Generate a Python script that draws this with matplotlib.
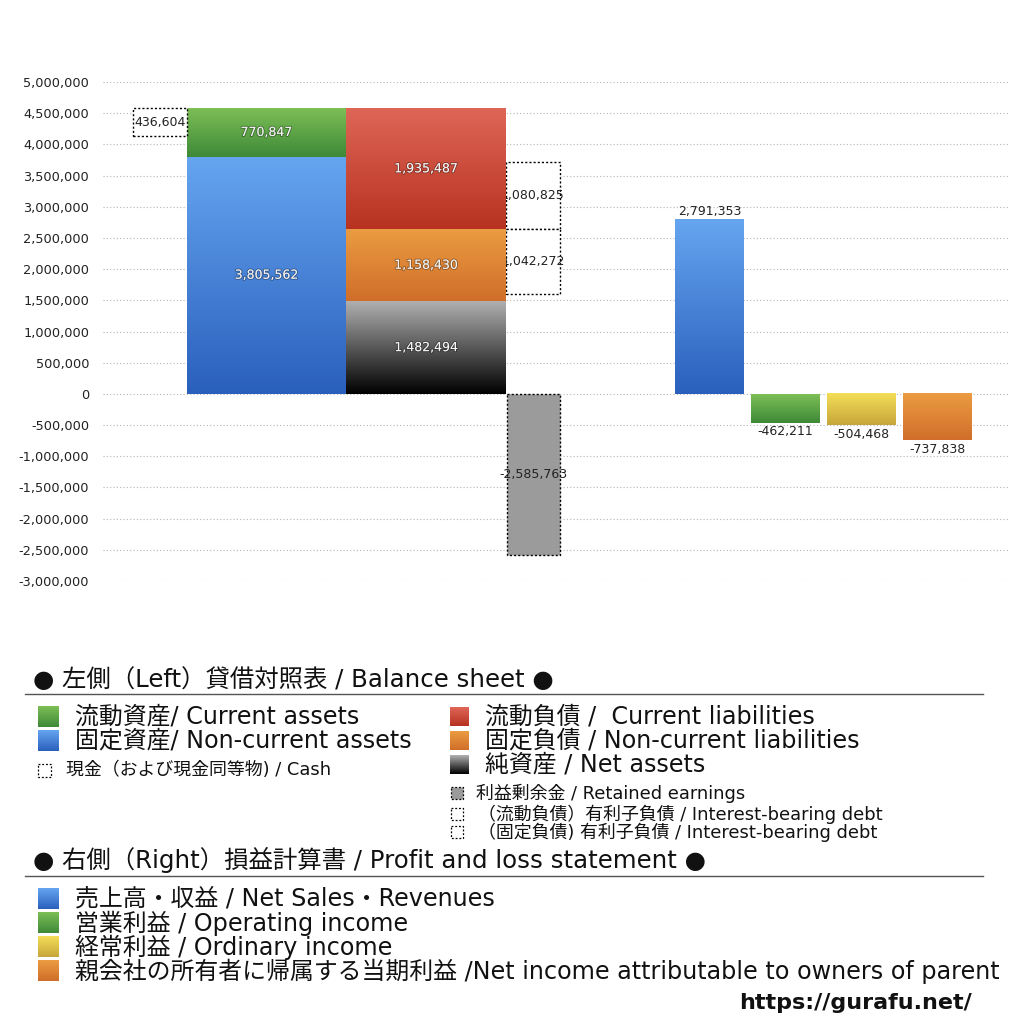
import matplotlib
matplotlib.use("Agg")
import matplotlib.pyplot as plt
import matplotlib.patheffects as pe
from matplotlib.patches import Rectangle
from matplotlib.colors import LinearSegmentedColormap
import numpy as np

# latin glyphs from DejaVu (wide, like the original), kanji/kana fall back to Noto CJK
plt.rcParams['font.family'] = ['DejaVu Sans', 'Noto Sans CJK JP']

'''Data read off the chart'''
# balance sheet (left)
current_assets = 770847
noncurrent_assets = 3805562
cash = 436604
current_liabilities = 1935487
noncurrent_liabilities = 1158430
net_assets = 1482494
retained_earnings = -2585763
ib_debt_current = 1080825
ib_debt_noncurrent = 1042272

# profit and loss (right)
pl_names = ["売上高・収益", "営業利益", "経常利益", "親会社の所有者に帰属する当期利益"]
pl_en = ["Net Sales・Revenues", "Operating income", "Ordinary income",
         "Net income attributable to owners of parent"]
pl_values = [2791353, -462211, -504468, -737838]

yticks = list(range(-3000000, 5000001, 500000))

# gradient colours (top, bottom)
GREEN = ("#7dbf56", "#3e8938")
BLUE = ("#66a5f0", "#2a60bd")
RED = ("#df6657", "#b73220")
ORANGE = ("#eb9c42", "#d06e29")
BLACK = ("#b0b0b0", "#000000")
YELLOW = ("#f4de58", "#c6a63a")
pl_colors = [BLUE, GREEN, YELLOW, ORANGE]

NUM_FS = 9
DOTS = (0, (1.5, 1.5))
TITLE_FS = 17.6
BIG_FS = 17.2
SMALL_FS = 12.9


def grad_fill(ax, patch, colors, zorder=3):
    x, y = patch.get_x(), patch.get_y()
    w, h = patch.get_width(), patch.get_height()
    y0, y1 = min(y, y + h), max(y, y + h)
    cmap = LinearSegmentedColormap.from_list("g", [colors[1], colors[0]])
    g = np.linspace(0, 1, 256).reshape(-1, 1)
    ax.imshow(g, cmap=cmap, extent=[x, x + w, y0, y1], origin='lower',
              aspect='auto', zorder=zorder, interpolation='bilinear')
    patch.set_visible(False)


def inner_label(ax, x, y, v):
    ax.text(x, y, f"{v:,}", ha='center', va='center', fontsize=NUM_FS, color='#f4f4f4',
            zorder=6, path_effects=[pe.withStroke(linewidth=1.4, foreground='#00000050')])


fig = plt.figure(figsize=(10.24, 10.24), dpi=100)
ax = fig.add_axes([103 / 1024, 1 - 581 / 1024, (1010 - 103) / 1024, (581 - 82) / 1024])

# --- left stack: assets
xa, wa = 266.5, 159
b = ax.bar(xa, noncurrent_assets, wa, bottom=0)[0]
grad_fill(ax, b, BLUE)
inner_label(ax, xa, noncurrent_assets / 2, noncurrent_assets)
b = ax.bar(xa, current_assets, wa, bottom=noncurrent_assets)[0]
grad_fill(ax, b, GREEN)
inner_label(ax, xa, noncurrent_assets + current_assets / 2, current_assets)
total_assets = noncurrent_assets + current_assets

# cash box
xc, wc = 160, 54
ax.bar(xc, cash, wc, bottom=total_assets - cash, facecolor='white', edgecolor='black',
       linestyle=DOTS, linewidth=1, zorder=4)
ax.text(xc, total_assets - cash / 2, f"{cash:,}", ha='center', va='center', fontsize=NUM_FS,
        color='#222222', zorder=5)

# --- right stack: liabilities and net assets
xl, wl = 426, 160
b = ax.bar(xl, net_assets, wl, bottom=0)[0]
grad_fill(ax, b, BLACK)
inner_label(ax, xl, net_assets / 2, net_assets)
b = ax.bar(xl, noncurrent_liabilities, wl, bottom=net_assets)[0]
grad_fill(ax, b, ORANGE)
inner_label(ax, xl, net_assets + noncurrent_liabilities / 2, noncurrent_liabilities)
base_cl = net_assets + noncurrent_liabilities
b = ax.bar(xl, current_liabilities, wl, bottom=base_cl)[0]
grad_fill(ax, b, RED)
inner_label(ax, xl, base_cl + current_liabilities / 2, current_liabilities)

# interest-bearing debt boxes (labels sit behind the liabilities bar)
xd, wd = 533, 54
ax.bar(xd, ib_debt_current, wd, bottom=base_cl, facecolor='white', edgecolor='black',
       linestyle=DOTS, linewidth=1, zorder=1.5)
ax.bar(xd, ib_debt_noncurrent, wd, bottom=base_cl - ib_debt_noncurrent, facecolor='white',
       edgecolor='black', linestyle=DOTS, linewidth=1, zorder=1.5)
ax.text(xd, base_cl + ib_debt_current / 2, f"{ib_debt_current:,}", ha='center', va='center',
        fontsize=NUM_FS, color='#222222', zorder=2)
ax.text(xd, base_cl - ib_debt_noncurrent / 2, f"{ib_debt_noncurrent:,}", ha='center', va='center',
        fontsize=NUM_FS, color='#222222', zorder=2)

# retained earnings
ax.bar(xd, retained_earnings, 53, bottom=0, facecolor='#9b9b9b', edgecolor='black',
       linestyle=DOTS, linewidth=1, zorder=3)
ax.text(xd, retained_earnings / 2, f"{retained_earnings:,}", ha='center', va='center',
        fontsize=NUM_FS, color='#222222', zorder=5)

# --- profit and loss bars
pl_x = [709.5, 785.5, 861.5, 937.5]
for xp, v, col in zip(pl_x, pl_values, pl_colors):
    b = ax.bar(xp, v, 69, bottom=0)[0]
    grad_fill(ax, b, col)
    if v >= 0:
        ax.annotate(f"{v:,}", (xp, v), xytext=(0, 1), textcoords='offset points',
                    ha='center', va='bottom', fontsize=NUM_FS, color='#222222')
    else:
        ax.annotate(f"{v:,}", (xp, v), xytext=(0, -2), textcoords='offset points',
                    ha='center', va='top', fontsize=NUM_FS, color='#222222')

ax.set_xlim(103, 1010)
ax.set_ylim(-3000000, 5000000)
ax.set_yticks(yticks)
ax.set_yticklabels([f"{t:,}" for t in yticks], fontsize=9.3, color='#222222')
ax.tick_params(axis='y', length=0, pad=10)
ax.set_xticks([])
ax.grid(axis='y', linestyle=(0, (1, 2)), color='#b5b5b5', linewidth=0.8, zorder=0)
ax.set_axisbelow(True)
for s in ax.spines.values():
    s.set_visible(False)

# --- legend drawn in pixel coordinates
lg = fig.add_axes([0, 0, 1, 1], zorder=-1)
lg.set_xlim(0, 1024)
lg.set_ylim(1024, 0)
lg.axis('off')


def lg_square(x, y, size, colors=None, face=None):
    if colors is not None:
        cmap = LinearSegmentedColormap.from_list("g", [colors[0], colors[1]])
        g = np.linspace(0, 1, 64).reshape(-1, 1)
        lg.imshow(g, cmap=cmap, extent=[x, x + size, y + size / 2, y - size / 2],
                  origin='upper', aspect='auto', interpolation='bilinear')
    else:
        lg.add_patch(Rectangle((x, y - size / 2), size, size, facecolor=face or 'white',
                               edgecolor='black', linestyle=DOTS, linewidth=0.9))


def lg_text(x, y, s, fs):
    lg.text(x, y, s, fontsize=fs, va='center', color='#111111')


lg_text(33, 680, "● 左側（Left）貸借対照表 / Balance sheet ●", TITLE_FS)
lg.plot([25, 983], [694, 694], color='#555555', linewidth=1)

lg_square(38, 717, 21, GREEN)
lg_text(75, 717, "流動資産/ Current assets", BIG_FS)
lg_square(38, 741, 21, BLUE)
lg_text(75, 741, "固定資産/ Non-current assets", BIG_FS)
lg_square(38, 770, 13)
lg_text(66, 770, "現金（および現金同等物) / Cash", SMALL_FS)

lg_square(450, 717, 19, RED)
lg_text(485, 717, "流動負債 /  Current liabilities", BIG_FS)
lg_square(450, 741, 19, ORANGE)
lg_text(485, 741, "固定負債 / Non-current liabilities", BIG_FS)
lg_square(450, 765, 19, BLACK)
lg_text(485, 765, "純資産 / Net assets", BIG_FS)
lg_square(451, 793, 12, face='#9b9b9b')
lg_text(476, 793, "利益剰余金 / Retained earnings", SMALL_FS)
lg_square(451, 814, 12)
lg_text(478, 814, "（流動負債）有利子負債 / Interest-bearing debt", SMALL_FS)
lg_square(451, 832, 12)
lg_text(478, 832, "（固定負債) 有利子負債 / Interest-bearing debt", SMALL_FS)

lg_text(33, 860, "● 右側（Right）損益計算書 / Profit and loss statement ●", TITLE_FS)
lg.plot([25, 983], [876, 876], color='#555555', linewidth=1)

for i, (jp, en, col) in enumerate(zip(pl_names, pl_en, pl_colors)):
    yy = 899 + 24 * i
    lg_square(38, yy, 21, col)
    sep = " /" if i == 3 else " / "
    lg_text(75, yy, jp + sep + en, BIG_FS)

lg.text(972, 1003, "https://gurafu.net/", fontsize=16, fontweight='bold', ha='right',
        va='center', color='#111111')

fig.savefig("out.png", dpi=100)
